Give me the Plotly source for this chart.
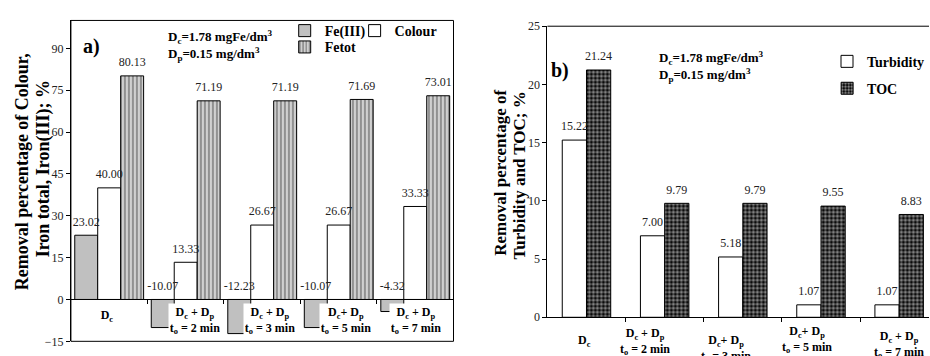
import numpy as np
import plotly.graph_objects as go

# ---------------- data ----------------
labels_a = [
    "D<sub>c</sub>",
    "D<sub>c</sub> + D<sub>p</sub><br>t<sub>o</sub> = 2 min",
    "D<sub>c</sub> + D<sub>p</sub><br>t<sub>o</sub> = 3 min",
    "D<sub>c</sub>+ D<sub>p</sub><br>t<sub>o</sub> = 5 min",
    "D<sub>c</sub> + D<sub>p</sub><br>t<sub>o</sub> = 7 min",
]
labels_b = [
    "D<sub>c</sub>",
    "D<sub>c</sub> + D<sub>p</sub><br>t<sub>o</sub> = 2 min",
    "D<sub>c</sub>+ D<sub>p</sub><br>t<sub>o</sub> = 3 min",
    "D<sub>c</sub>+ D<sub>p</sub><br>t<sub>o</sub> = 5 min",
    "D<sub>c</sub> + D<sub>p</sub><br>t<sub>o</sub> = 7 min",
]
fe3 = [23.02, -10.07, -12.23, -10.07, -4.32]
colour = [40.00, 13.33, 26.67, 26.67, 33.33]
fetot = [80.13, 71.19, 71.19, 71.69, 73.01]
turbidity = [15.22, 7.00, 5.18, 1.07, 1.07]
toc = [21.24, 9.79, 9.79, 9.55, 8.83]
yticks_a = [-15, 0, 15, 30, 45, 60, 75, 90]
yticks_b = [0, 5, 10, 15, 20, 25]

# ---------------- styling helpers ----------------
W, H = 930, 356
def fx(p):
    return p / W
def fy(p):
    return 1 - p / H

SERIF = "Liberation Serif"
idx = np.arange(len(labels_a))
line_k = dict(color="black", width=1)
ghost = dict(size=9, color="rgba(0,0,0,0)")

fig = go.Figure()

# ---------- panel a ----------
bw_a = 0.3
series_a = [
    ("Fe(III)", fe3, -0.45, dict(color="#c0c0c0", line=line_k), "legend"),
    ("Colour", colour, -0.15, dict(color="white", line=line_k), "legend2"),
    ("Fetot", fetot, 0.15,
     dict(color="#d0d0d0", line=line_k,
          pattern=dict(shape="|", fgcolor="black", bgcolor="#d0d0d0", size=4, solidity=0.3)),
     "legend3"),
]
for name, vals, off, mk, lg in series_a:
    fig.add_trace(go.Bar(x=idx, y=vals, width=bw_a, offset=off, name=name, marker=mk,
                         xaxis="x", yaxis="y", legend=lg))
for name, vals, off, mk, lg in series_a:
    fig.add_trace(go.Scatter(x=idx + off + bw_a / 2, y=[max(v, 0) for v in vals],
                             text=[f"{v:.2f}" for v in vals], mode="markers+text",
                             marker=ghost, textposition="top center", showlegend=False,
                             cliponaxis=False,
                             textfont=dict(family=SERIF, size=12, color="#222"),
                             xaxis="x", yaxis="y", hoverinfo="skip"))

# ---------- panel b ----------
bw_b = 0.31
series_b = [
    ("Turbidity", turbidity, -0.31, dict(color="white", line=line_k), "legend4"),
    ("TOC", toc, 0.0,
     dict(color="black", line=line_k,
          pattern=dict(shape=".", fgcolor="white", bgcolor="black", size=4, solidity=0.55)),
     "legend5"),
]
for name, vals, off, mk, lg in series_b:
    fig.add_trace(go.Bar(x=idx, y=vals, width=bw_b, offset=off, name=name, marker=mk,
                         xaxis="x2", yaxis="y2", legend=lg))
for name, vals, off, mk, lg in series_b:
    fig.add_trace(go.Scatter(x=idx + off + bw_b / 2, y=vals,
                             text=[f"{v:.2f}" for v in vals], mode="markers+text",
                             marker=ghost, textposition="top center", showlegend=False,
                             cliponaxis=False,
                             textfont=dict(family=SERIF, size=12, color="#222"),
                             xaxis="x2", yaxis="y2", hoverinfo="skip"))

# ---------- axes ----------
ya_dom = [fy(348), fy(14)]
ya_rng = [-15, 100]
zero_pos = ya_dom[0] + (0 - ya_rng[0]) / (ya_rng[1] - ya_rng[0]) * (ya_dom[1] - ya_dom[0])
tickfont = dict(family=SERIF, size=12, color="#222")

fig.update_layout(
    width=W, height=H, margin=dict(l=0, r=0, t=0, b=0),
    paper_bgcolor="white", plot_bgcolor="white", barmode="overlay",
    xaxis=dict(domain=[fx(71), fx(454)], range=[-0.5, 4.5], anchor="free", position=zero_pos,
               showline=True, linecolor="black", linewidth=1, ticks="outside", ticklen=4,
               tickcolor="black", tickvals=[0.5, 1.5, 2.5, 3.5], showticklabels=False,
               showgrid=False, zeroline=False),
    yaxis=dict(domain=ya_dom, range=ya_rng, anchor="x", tickvals=yticks_a, ticks="outside",
               ticklen=4, tickcolor="black", showline=True, linecolor="black", showgrid=False,
               zeroline=False, tickfont=tickfont),
    xaxis2=dict(domain=[fx(548), 1], range=[-0.5, -0.5 + 382 / 78.25], anchor="y2",
                showline=True, linecolor="black", linewidth=1, ticks="outside", ticklen=4,
                tickcolor="black", tickvals=[0.5, 1.5, 2.5, 3.5], showticklabels=False,
                showgrid=False, zeroline=False),
    yaxis2=dict(domain=[fy(323), fy(20)], range=[0, 25], anchor="x2", tickvals=yticks_b,
                ticks="outside", ticklen=4, tickcolor="black", showline=True, linecolor="black",
                showgrid=False, zeroline=False, tickfont=tickfont),
)

# frame for panel a, top border for panel b
fig.add_shape(type="rect", xref="x domain", yref="y domain", x0=0, x1=1, y0=0, y1=1,
              line=dict(color="black", width=1), layer="above")
fig.add_shape(type="line", xref="x2 domain", yref="y2 domain", x0=0, x1=1, y0=1, y1=1,
              line=dict(color="black", width=1))

# ---------- legends ----------
lgfont = dict(family=SERIF, size=14, color="black", weight="bold")
def lg(xp, yp):
    return dict(x=fx(xp), y=fy(yp), xanchor="left", yanchor="middle", font=lgfont,
                bgcolor="rgba(0,0,0,0)", itemwidth=30, orientation="v")
fig.update_layout(legend=lg(285, 25), legend2=lg(355, 25), legend3=lg(285, 42),
                  legend4=lg(828, 57), legend5=lg(828, 85))

# ---------- annotations ----------
ann = []
# axis titles (two lines each)
ttl = dict(family=SERIF, size=18, color="black")
ttl_b = dict(family=SERIF, size=17, color="black")
ann.append(dict(text="<b>Removal percentage of Colour,</b>", x=fx(22), y=fy(171), textangle=-90, font=ttl))
ann.append(dict(text="<b>Iron total, Iron(III); %</b>", x=fx(43), y=fy(168), textangle=-90, font=ttl))
ann.append(dict(text="<b>Removal percentage of</b>", x=fx(501), y=fy(172), textangle=-90, font=ttl_b))
ann.append(dict(text="<b>Turbidity and TOC; %</b>", x=fx(520), y=fy(175), textangle=-90, font=ttl_b))
for a in ann:
    a.update(xref="paper", yref="paper", showarrow=False, xanchor="center", yanchor="middle")

info = "<b>D<sub>c</sub>=1.78 mgFe/dm<sup>3</sup><br>D<sub>p</sub>=0.15 mg/dm<sup>3</sup></b>"
extra = [
    dict(text="<b>a)</b>", x=fx(92), y=fy(41), font=dict(family=SERIF, size=20, color="black"),
         xanchor="center", yanchor="middle"),
    dict(text="<b>b)</b>", x=fx(561), y=fy(66), font=dict(family=SERIF, size=20, color="black"),
         xanchor="center", yanchor="middle"),
    dict(text=info, x=fx(166), y=fy(40), font=dict(family=SERIF, size=13, color="black"),
         xanchor="left", yanchor="middle", align="left"),
    dict(text=info, x=fx(658), y=fy(62), font=dict(family=SERIF, size=13, color="black"),
         xanchor="left", yanchor="middle", align="left"),
]
for a in extra:
    a.update(xref="paper", yref="paper", showarrow=False)
ann += extra

catfont = dict(family=SERIF, size=12, color="black")
xshift_a = [-2, 9, 8, 7, 1]
yshift_a = [-7, -4, -4, -4, -4]
for i, lab in enumerate(labels_a):
    ann.append(dict(text=f"<b>{lab}</b>", x=i, y=0, xref="x", yref="y", showarrow=False,
                    xanchor="center", yanchor="top", xshift=xshift_a[i], yshift=yshift_a[i],
                    bgcolor="white", width=50, borderpad=1, font=catfont))
xshift_b = [-2, -20, -17, -14, 0]
yshift_b = [-14, -7, -14, -5, -10]
for i, lab in enumerate(labels_b):
    ann.append(dict(text=f"<b>{lab}</b>", x=i, y=0, xref="x2", yref="y2", showarrow=False,
                    xanchor="center", yanchor="top", xshift=xshift_b[i], yshift=yshift_b[i],
                    font=catfont))

fig.update_layout(annotations=ann)
fig.write_html("out.html")
